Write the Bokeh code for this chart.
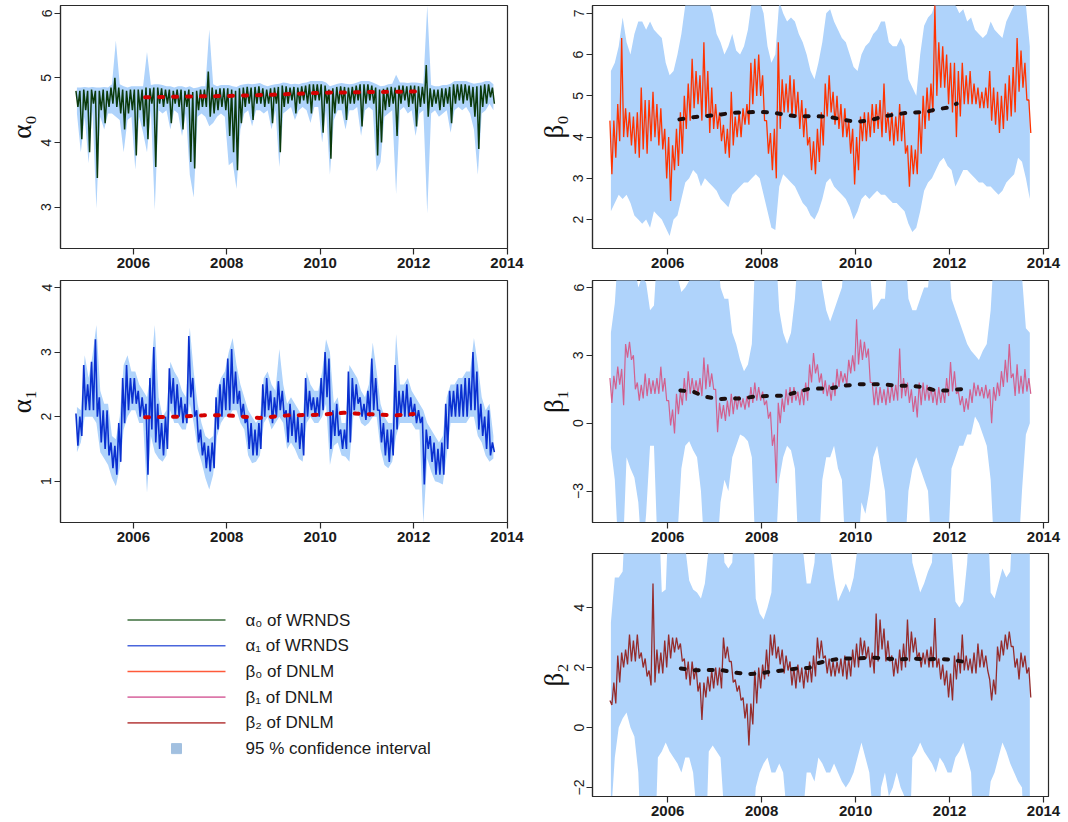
import numpy as np
from bokeh.plotting import figure
from bokeh.layouts import column, row
from bokeh.models import Range1d, FixedTicker
from bokeh.embed import file_html
from bokeh.resources import INLINE
from bokeh.core.properties import value

# ---------------- time grid: monthly, Oct 2004 .. Sep 2013 ----------------
first_month = 2004.75
n_months = 108
t = first_month + (np.arange(n_months) + 0.5) / 12.0

year_ticks = [2006, 2008, 2010, 2012, 2014]

# ---------------- alpha0 of WRNDS (monthly max / min of the daily path) ----------------
a0_hi = [4.80, 4.80, 4.82,
         4.80, 4.82, 4.80, 4.80, 4.82, 4.80, 4.85, 5.00, 4.85, 4.82, 4.80, 4.82,
         4.82, 4.82, 4.82, 4.85, 4.84, 4.85, 4.85, 4.84, 4.82, 4.82, 4.80, 4.82,
         4.82, 4.80, 4.82, 4.78, 4.80, 4.82, 4.82, 5.10, 4.85, 4.82, 4.84, 4.84,
         4.84, 4.82, 4.80, 4.84, 4.85, 4.86, 4.85, 4.86, 4.87, 4.84, 4.82, 4.84,
         4.85, 4.86, 4.88, 4.87, 4.85, 4.86, 4.85, 4.87, 4.88, 4.90, 4.90, 4.90,
         4.90, 4.88, 4.82, 4.84, 4.86, 4.87, 4.86, 4.85, 4.86, 4.88, 4.90, 4.90,
         4.90, 4.88, 4.85, 4.82, 4.83, 4.85, 4.86, 4.85, 4.88, 4.88, 4.87, 4.88,
         4.88, 4.87, 4.86, 5.20, 4.84, 4.82, 4.82, 4.84, 4.84, 4.86, 4.90, 4.90,
         4.90, 4.90, 4.88, 4.86, 4.87, 4.88, 4.90, 4.90, 4.85]
a0_lo = [4.55, 4.05, 4.50,
         3.85, 4.60, 3.45, 4.50, 4.30, 4.55, 4.60, 4.55, 4.45, 4.20, 4.45, 4.50,
         3.80, 4.50, 4.25, 4.05, 4.60, 3.62, 4.60, 4.55, 4.60, 4.30, 4.60, 4.55,
         4.20, 4.55, 3.70, 3.60, 4.50, 4.55, 4.55, 4.40, 4.45, 4.50, 4.55, 4.50,
         4.10, 3.85, 3.57, 4.30, 4.55, 4.60, 4.35, 4.60, 4.60, 4.55, 4.60, 4.30,
         4.60, 3.85, 4.55, 4.60, 4.65, 4.45, 4.60, 4.65, 4.60, 4.45, 4.65, 4.65,
         4.15, 4.60, 3.75, 4.45, 4.60, 4.60, 4.35, 4.60, 4.60, 4.65, 4.25, 4.60,
         4.65, 4.60, 3.80, 4.00, 4.50, 4.55, 4.60, 4.10, 4.60, 4.65, 4.55, 4.60,
         4.25, 4.55, 4.60, 4.40, 4.55, 4.60, 4.50, 4.55, 4.60, 4.30, 4.60, 4.65,
         4.60, 4.65, 4.55, 4.40, 3.90, 4.55, 4.60, 4.70, 4.60]
a0_ci_hi = [4.85, 4.85, 4.86,
            4.85, 4.86, 4.85, 4.85, 4.86, 4.85, 4.90, 5.58, 4.90, 4.87, 4.85, 4.87,
            4.87, 4.87, 4.87, 5.40, 4.89, 4.90, 4.90, 4.89, 4.87, 4.87, 4.85, 4.87,
            4.87, 4.85, 4.87, 4.84, 4.85, 4.87, 4.87, 5.75, 4.90, 4.87, 4.89, 4.89,
            4.89, 4.87, 4.86, 4.89, 4.90, 4.91, 4.90, 4.91, 4.92, 4.89, 4.87, 4.89,
            4.90, 4.91, 4.93, 4.92, 4.90, 4.91, 4.90, 4.92, 4.93, 4.95, 4.95, 4.95,
            4.95, 4.93, 4.87, 4.89, 4.91, 4.92, 4.91, 4.90, 4.91, 4.93, 4.95, 4.95,
            4.95, 4.93, 4.90, 4.87, 4.88, 4.90, 4.91, 5.05, 4.93, 4.93, 4.92, 4.93,
            4.93, 4.92, 4.91, 6.12, 4.89, 4.87, 4.87, 4.89, 4.89, 4.91, 4.95, 4.95,
            4.95, 4.95, 4.93, 4.91, 4.92, 4.93, 4.95, 4.95, 4.90]
a0_ci_lo = [4.45, 3.85, 4.40,
            3.68, 4.50, 2.98, 4.40, 4.20, 4.45, 4.45, 4.40, 4.35, 3.85, 4.35, 4.40,
            3.58, 4.40, 4.15, 3.85, 4.50, 2.95, 4.50, 4.45, 4.50, 4.20, 4.50, 4.45,
            4.10, 4.45, 3.50, 3.15, 4.40, 4.45, 4.40, 4.25, 4.30, 4.40, 4.45, 4.40,
            3.65, 3.70, 3.28, 4.20, 4.45, 4.50, 4.25, 4.50, 4.50, 4.45, 4.50, 4.20,
            4.50, 3.62, 4.45, 4.50, 4.55, 4.35, 4.50, 4.55, 4.50, 4.30, 4.55, 4.55,
            4.00, 4.50, 3.50, 4.35, 4.50, 4.50, 4.20, 4.50, 4.50, 4.55, 4.10, 4.50,
            4.55, 4.50, 3.55, 3.70, 4.40, 4.45, 4.50, 3.20, 4.50, 4.55, 4.45, 4.50,
            4.10, 4.45, 4.50, 2.90, 4.45, 4.50, 4.40, 4.45, 4.50, 4.15, 4.50, 4.55,
            4.50, 4.55, 4.45, 4.20, 3.50, 4.45, 4.50, 4.60, 4.50]
a0_trend_t = [2006.25, 2007.0, 2008.0, 2009.0, 2010.0, 2011.0, 2012.2]
a0_trend_v = [4.70, 4.71, 4.72, 4.74, 4.77, 4.78, 4.79]

# ---------------- alpha1 of WRNDS ----------------
a1_hi = [2.05, 2.00, 2.80,
         2.50, 2.85, 3.20, 2.30, 2.10, 2.10, 1.60, 1.55, 1.90, 2.60, 2.80, 2.60,
         2.60, 2.40, 2.30, 2.20, 2.60, 3.08, 2.20, 1.90, 2.00, 2.75, 2.60, 2.50,
         2.30, 2.20, 3.25, 2.60, 2.10, 1.80, 1.60, 1.55, 1.60, 2.30, 2.50, 2.60,
         2.90, 3.05, 2.70, 2.40, 2.20, 2.00, 1.90, 1.80, 1.90, 2.50, 2.60, 2.40,
         2.30, 2.55, 2.40, 2.10, 2.20, 2.10, 2.00, 1.90, 2.60, 2.40, 2.30, 2.30,
         2.60, 3.00, 2.90, 2.10, 2.20, 1.80, 1.80, 2.70, 2.60, 2.50, 2.30, 2.20,
         2.40, 2.90, 2.60, 2.10, 1.90, 1.80, 1.80, 2.80, 2.40, 2.40, 2.50, 2.30,
         2.20, 2.10, 2.00, 1.80, 1.70, 1.60, 1.50, 1.60, 2.20, 2.40, 2.40, 2.50,
         2.50, 2.60, 2.60, 3.00, 2.70, 2.20, 2.00, 2.10, 1.60]
a1_lo = [1.55, 1.70, 2.10,
         2.10, 2.10, 2.00, 1.60, 1.50, 1.40, 1.20, 1.10, 1.30, 1.90, 2.10, 2.20,
         2.20, 2.00, 2.00, 1.10, 1.80, 1.60, 1.50, 1.40, 1.50, 2.20, 2.00, 2.00,
         1.90, 1.90, 2.30, 2.00, 1.60, 1.40, 1.20, 1.15, 1.20, 1.80, 2.00, 2.10,
         2.10, 2.20, 2.20, 2.00, 1.90, 1.50, 1.40, 1.40, 1.50, 2.00, 2.10, 1.90,
         2.00, 2.10, 2.00, 1.60, 1.70, 1.60, 1.50, 1.40, 2.00, 2.10, 2.00, 2.00,
         2.10, 2.30, 1.50, 1.70, 1.70, 1.50, 1.50, 1.60, 2.10, 2.20, 2.00, 1.95,
         2.00, 2.10, 2.10, 1.60, 1.40, 1.30, 1.40, 1.80, 2.00, 2.00, 2.00, 2.00,
         1.90, 1.90, 0.95, 1.50, 1.30, 1.10, 1.10, 1.10, 1.50, 2.00, 2.00, 2.00,
         2.00, 2.00, 2.10, 2.10, 1.80, 1.70, 1.50, 1.40, 1.45]
a1_ci_hi = [2.15, 2.10, 2.95,
            2.60, 2.95, 3.42, 2.40, 2.20, 2.20, 1.70, 1.65, 2.00, 2.80, 2.95, 2.70,
            2.70, 2.50, 2.40, 2.30, 2.70, 3.42, 2.30, 2.00, 2.10, 2.85, 2.70, 2.60,
            2.40, 2.30, 3.38, 2.70, 2.20, 1.90, 1.70, 1.65, 1.70, 2.40, 2.60, 2.70,
            3.00, 3.22, 2.80, 2.50, 2.30, 2.10, 2.00, 1.90, 2.00, 2.60, 2.70, 2.50,
            2.40, 3.05, 2.50, 2.20, 2.30, 2.20, 2.10, 2.00, 2.70, 2.50, 2.40, 2.40,
            2.70, 3.20, 3.00, 2.20, 2.30, 1.90, 1.90, 2.80, 2.70, 2.60, 2.40, 2.30,
            2.50, 3.15, 2.70, 2.20, 2.00, 1.90, 1.90, 3.28, 2.50, 2.50, 2.60, 2.40,
            2.30, 2.20, 2.10, 1.90, 1.80, 1.70, 1.60, 1.70, 2.30, 2.50, 2.50, 2.60,
            2.60, 2.70, 2.70, 3.22, 2.80, 2.30, 2.10, 2.20, 1.70]
a1_ci_lo = [1.45, 1.60, 2.00,
            2.00, 2.00, 1.90, 1.45, 1.35, 1.25, 1.05, 0.92, 1.20, 1.80, 2.00, 2.10,
            2.10, 1.90, 1.90, 0.82, 1.70, 1.45, 1.35, 1.30, 1.40, 2.10, 1.90, 1.90,
            1.80, 1.80, 2.20, 1.90, 1.50, 1.30, 1.05, 0.87, 1.10, 1.70, 1.90, 2.00,
            2.00, 2.10, 2.10, 1.90, 1.80, 1.40, 1.28, 1.30, 1.40, 1.90, 2.00, 1.80,
            1.90, 2.00, 1.90, 1.50, 1.60, 1.50, 1.35, 1.30, 1.90, 2.00, 1.90, 1.90,
            2.00, 2.20, 1.25, 1.55, 1.60, 1.40, 1.38, 1.30, 2.00, 2.10, 1.90, 1.85,
            1.90, 2.00, 2.00, 1.50, 1.25, 1.20, 1.30, 1.70, 1.90, 1.90, 1.90, 1.90,
            1.80, 1.80, 0.35, 1.35, 1.15, 1.00, 0.98, 0.95, 1.40, 1.90, 1.90, 1.90,
            1.90, 1.90, 2.00, 2.00, 1.70, 1.60, 1.40, 1.30, 1.35]
a1_trend_t = [2006.25, 2007.0, 2007.5, 2008.0, 2008.7, 2009.3, 2010.0, 2010.5, 2011.0, 2011.6, 2012.0]
a1_trend_v = [1.99, 2.00, 2.02, 2.02, 1.98, 2.02, 2.03, 2.06, 2.04, 2.02, 2.04]

# ---------------- beta0 of DNLM ----------------
b0_hi = [4.4, 4.4, 4.8,
         6.4, 4.7, 4.6, 4.5, 4.6, 5.2, 4.9, 4.9, 5.1, 4.8, 4.7, 4.2,
         4.0, 3.8, 4.2, 4.6, 5.0, 5.3, 5.9, 5.6, 5.5, 6.3, 5.6, 5.2,
         4.8, 4.6, 4.3, 4.2, 5.1, 4.5, 4.6, 4.7, 4.8, 5.8, 5.9, 6.0,
         5.5, 4.4, 4.1, 4.2, 6.3, 5.4, 5.3, 5.5, 5.4, 5.1, 4.9, 4.7,
         4.0, 3.9, 4.2, 4.6, 5.3, 5.5, 5.1, 5.0, 4.8, 4.7, 4.4, 4.2,
         4.0, 4.5, 4.6, 4.6, 4.8, 4.8, 4.9, 5.3, 4.6, 4.6, 4.5, 4.8,
         4.6, 3.8, 3.8, 3.7, 4.6, 5.0, 5.2, 5.3, 7.2, 6.3, 6.2, 6.0,
         5.8, 5.8, 5.6, 5.8, 5.5, 5.6, 5.3, 5.2, 5.1, 5.2, 5.6, 5.2,
         5.1, 5.0, 5.3, 5.5, 5.7, 6.4, 6.1, 5.8, 4.9]
b0_lo = [3.1, 3.5, 3.9,
         4.0, 4.0, 3.8, 3.6, 3.5, 3.7, 3.6, 3.9, 4.0, 3.8, 3.7, 3.0,
         2.45, 3.2, 3.3, 3.6, 4.2, 4.4, 4.7, 4.8, 4.4, 4.5, 4.1, 4.2,
         4.2, 3.9, 3.6, 3.5, 3.8, 4.0, 4.0, 4.3, 4.3, 4.8, 5.0, 5.0,
         4.4, 3.6, 3.2, 3.0, 4.2, 4.6, 4.6, 4.5, 4.5, 4.2, 4.0, 3.8,
         3.2, 3.1, 3.4, 3.8, 4.5, 4.6, 4.3, 4.2, 4.0, 4.0, 3.6, 2.85,
         3.2, 3.9, 3.9, 4.0, 4.1, 4.2, 4.0, 4.1, 3.9, 3.8, 3.9, 3.9,
         3.6, 2.8, 3.1, 3.1, 3.6, 4.2, 4.4, 4.6, 5.0, 5.2, 5.2, 4.8,
         4.6, 4.0, 4.5, 4.8, 4.8, 4.8, 4.8, 4.7, 4.7, 4.7, 4.4, 4.3,
         4.1, 4.2, 4.4, 4.5, 4.6, 5.1, 5.2, 4.9, 4.1]
b0_ci_hi = [5.6, 5.8, 6.2,
            6.9, 6.3, 6.0, 6.5, 6.8, 6.8, 6.6, 6.8, 6.6, 6.5, 6.4, 5.8,
            5.5, 5.6, 6.0, 6.5, 7.2, 7.3, 7.3, 7.3, 7.3, 7.3, 7.3, 7.0,
            6.5, 6.3, 6.0, 6.2, 6.5, 6.1, 6.0, 6.2, 6.6, 7.3, 7.3, 7.3,
            7.0, 6.2, 5.8, 6.0, 7.3, 7.0, 6.8, 6.9, 6.8, 6.5, 6.3, 6.0,
            5.6, 5.4, 5.8, 6.3, 7.0, 7.1, 6.8, 6.6, 6.4, 6.3, 6.0, 5.7,
            5.6, 6.0, 6.2, 6.3, 6.5, 6.6, 6.8, 6.8, 6.3, 6.2, 6.2, 6.4,
            6.2, 5.4, 5.2, 5.0, 6.0, 6.7, 6.9, 7.0, 7.3, 7.3, 7.3, 7.3,
            7.3, 7.2, 7.0, 7.1, 6.8, 6.9, 6.6, 6.5, 6.4, 6.5, 6.8, 6.6,
            6.5, 6.4, 6.8, 7.0, 7.2, 7.3, 7.3, 7.2, 6.2]
b0_ci_lo = [2.2, 2.4, 2.6,
            2.5, 2.6, 2.4, 2.1, 2.0, 1.9, 2.0, 1.8, 2.2, 2.1, 2.0, 1.8,
            1.6, 2.0, 2.1, 2.5, 2.9, 3.0, 3.2, 3.1, 2.8, 3.0, 2.9, 2.8,
            2.7, 2.5, 2.4, 2.3, 2.6, 2.7, 2.8, 2.9, 2.9, 3.0, 3.1, 3.0,
            2.6, 2.2, 1.8, 1.75, 2.8, 3.1, 3.0, 2.9, 2.8, 2.6, 2.4, 2.3,
            2.1, 2.0, 2.2, 2.5, 2.9, 3.0, 2.8, 2.7, 2.6, 2.5, 2.3, 2.0,
            2.2, 2.5, 2.6, 2.5, 2.6, 2.7, 2.6, 2.6, 2.5, 2.4, 2.4, 2.3,
            2.2, 1.9, 1.7, 1.8, 2.2, 2.7, 2.9, 3.0, 3.2, 3.4, 3.5, 3.3,
            3.2, 2.8, 3.0, 3.2, 3.2, 3.1, 3.0, 2.9, 2.9, 2.8, 2.8, 2.7,
            2.6, 2.7, 2.9, 3.0, 3.1, 3.5, 3.4, 3.0, 2.5]
b0_trend_t = [2006.25, 2006.6, 2007.0, 2007.4, 2007.9, 2008.2, 2008.7, 2009.4, 2009.7,
              2010.0, 2010.3, 2010.55, 2010.8, 2011.1, 2011.5, 2011.7, 2012.0, 2012.15]
b0_trend_v = [4.43, 4.49, 4.53, 4.59, 4.61, 4.60, 4.51, 4.50, 4.43,
              4.37, 4.40, 4.49, 4.54, 4.59, 4.61, 4.67, 4.72, 4.81]

# ---------------- beta1 of DNLM ----------------
b1_hi = [2.0, 2.1, 2.5,
         2.4, 3.5, 3.6, 3.0, 1.8, 1.7, 2.2, 2.0, 1.9, 2.0, 2.5, 2.0,
         1.0, 0.6, 1.3, 1.4, 2.0, 2.3, 2.0, 1.9, 2.0, 2.9, 2.6, 2.2,
         1.5, 0.9, 0.8, 1.0, 1.3, 1.2, 1.2, 1.1, 1.2, 1.6, 1.8, 1.6,
         1.4, 1.0, 0.5, -0.5, 0.9, 1.1, 1.5, 1.6, 1.6, 1.4, 1.5, 1.8,
         2.6, 3.1, 2.6, 2.2, 1.9, 1.7, 1.8, 2.4, 2.3, 2.2, 2.8, 3.0,
         4.6, 3.7, 3.6, 3.3, 1.8, 1.6, 1.6, 1.5, 1.6, 1.7, 1.7, 3.3,
         2.0, 1.8, 1.5, 1.2, 1.8, 1.8, 1.7, 1.6, 1.5, 1.6, 1.5, 2.0,
         2.7, 2.3, 1.4, 1.2, 1.1, 1.5, 1.8, 1.7, 1.6, 1.7, 1.5, 1.6,
         1.8, 2.3, 2.8, 3.5, 2.2, 2.6, 2.1, 2.4, 2.0]
b1_lo = [0.9, 1.5, 1.7,
         0.8, 2.9, 2.8, 1.5, 1.0, 1.1, 1.2, 1.3, 1.3, 1.3, 1.4, 1.0,
         -0.1, -0.45, 0.4, 0.8, 1.0, 1.3, 1.3, 1.3, 1.2, 1.5, 1.6, 1.5,
         -0.4, 0.2, 0.1, 0.3, 0.4, 0.6, 0.7, 0.6, 0.7, 0.9, 1.0, 1.0,
         0.8, 0.2, -1.0, -2.65, 0.0, 0.5, 0.8, 0.9, 1.0, 0.8, 0.8, 1.0,
         1.8, 2.2, 1.8, 1.3, 1.2, 1.0, 1.2, 1.6, 1.8, 1.7, 2.2, 2.3,
         2.6, 2.8, 2.9, 1.8, 0.8, 0.8, 0.9, 0.8, 0.9, 1.0, 1.0, 1.1,
         1.2, 0.9, 0.5, 0.25, 0.8, 1.0, 1.0, 0.9, 0.8, 0.9, 0.9, 1.2,
         1.4, 1.3, 0.8, 0.5, 0.6, 0.9, 1.2, 1.2, 1.1, 1.1, 0.0, 1.0,
         1.2, 1.6, 1.8, 2.0, 1.2, 1.3, 1.3, 1.4, 1.3]
b1_ci_hi = [4.0, 5.3, 8.0,
            8.0, 8.0, 8.0, 7.0, 6.0, 6.5, 6.2, 5.0, 5.2, 8.0, 8.0, 8.0,
            8.0, 8.0, 6.5, 5.8, 6.0, 6.3, 6.5, 6.5, 8.0, 8.0, 8.0, 8.0,
            8.0, 6.0, 5.5, 5.5, 4.0, 3.5, 2.8, 2.3, 2.6, 3.5, 8.0, 8.0,
            8.0, 8.0, 8.0, 8.0, 5.0, 4.0, 3.5, 4.0, 5.5, 8.0, 8.0, 8.0,
            8.0, 8.0, 8.0, 6.0, 5.0, 4.5, 5.0, 5.5, 6.0, 8.0, 8.0, 8.0,
            8.0, 8.0, 8.0, 7.0, 5.0, 5.2, 5.5, 5.5, 8.0, 8.0, 8.0, 8.0,
            8.0, 5.5, 5.0, 5.0, 5.5, 6.0, 6.0, 8.0, 8.0, 8.0, 8.0, 8.0,
            5.5, 5.0, 4.5, 4.0, 3.5, 3.2, 3.0, 2.8, 3.2, 3.5, 5.0, 8.0,
            8.0, 8.0, 8.0, 8.0, 8.0, 8.0, 6.5, 4.2, 4.0]
b1_ci_lo = [-1.1, -2.5, -6.0,
            -6.0, -1.5, -2.0, -2.4, -3.5, -6.0, -4.0, -1.0, -1.0, -6.0, -6.0, -6.0,
            -6.0, -6.0, -5.0, -2.0, -1.0, -0.8, -1.2, -1.5, -3.0, -6.0, -6.0, -6.0,
            -6.0, -3.5, -2.5, -3.0, -1.5, -1.0, -0.5, -0.6, -0.8, -1.5, -6.0, -6.0,
            -6.0, -6.0, -6.0, -6.0, -2.5, -1.5, -1.0, -1.2, -2.0, -6.0, -6.0, -6.0,
            -6.0, -6.0, -6.0, -2.5, -1.5, -1.5, -1.0, -2.0, -2.5, -6.0, -6.0, -6.0,
            -6.0, -3.5, -4.0, -3.0, -1.5, -1.0, -2.0, -3.0, -6.0, -6.0, -6.0, -6.0,
            -6.0, -3.0, -2.0, -1.5, -2.0, -2.5, -3.0, -6.0, -6.0, -6.0, -6.0, -6.0,
            -2.0, -1.5, -1.0, -1.0, -0.5, -0.5, 0.3, 0.0, -0.5, -1.0, -2.5, -6.0,
            -6.0, -6.0, -6.0, -6.0, -6.0, -6.0, -3.0, -0.5, 0.0]
b1_trend_t = [2006.27, 2006.56, 2006.77, 2007.06, 2007.6, 2007.88, 2008.49, 2008.74, 2008.99, 2009.5,
              2009.77, 2010.06, 2010.56, 2010.88, 2011.16, 2011.45, 2011.7, 2011.99, 2012.27]
b1_trend_v = [1.45, 1.38, 1.19, 1.07, 1.10, 1.19, 1.22, 1.37, 1.51, 1.56,
              1.66, 1.72, 1.72, 1.66, 1.66, 1.59, 1.45, 1.45, 1.51]

# ---------------- beta2 of DNLM ----------------
b2_hi = [0.9, 1.5, 2.4,
         2.5, 2.6, 3.1, 2.9, 3.1, 2.5, 2.3, 1.9, 4.8, 2.6, 2.5, 2.9,
         3.1, 3.0, 3.0, 2.8, 2.3, 2.2, 2.2, 2.0, 1.5, 1.5, 1.7, 1.9,
         2.0, 2.0, 3.0, 2.7, 2.2, 1.6, 1.4, 1.0, 0.8, 0.8, 1.9, 2.0,
         2.1, 2.6, 3.1, 3.1, 2.7, 2.6, 2.4, 2.2, 2.0, 2.1, 2.0, 2.0,
         2.2, 2.4, 3.0, 2.9, 2.4, 2.3, 2.2, 2.2, 2.3, 2.4, 2.3, 2.6,
         2.8, 3.0, 2.9, 2.7, 2.5, 3.8, 3.6, 3.3, 2.9, 2.4, 2.3, 2.6,
         2.8, 3.6, 3.2, 3.0, 2.5, 2.5, 2.6, 2.7, 3.65, 2.3, 2.1, 1.9,
         1.8, 2.4, 2.5, 3.1, 2.4, 2.3, 2.5, 2.8, 2.6, 2.4, 1.6, 1.6,
         2.7, 2.9, 3.1, 3.2, 2.7, 2.3, 2.5, 2.4, 2.0]
b2_lo = [0.75, 0.8, 1.5,
         2.0, 2.1, 2.2, 2.2, 2.3, 2.0, 1.7, 1.4, 1.5, 1.8, 1.8, 2.0,
         2.3, 2.5, 2.6, 2.2, 1.6, 1.4, 1.6, 1.2, 0.25, 1.0, 1.2, 1.3,
         1.4, 1.3, 2.3, 2.2, 1.5, 1.2, 0.9, 0.3, -0.6, 0.1, 0.8, 1.3,
         1.6, 1.7, 2.4, 2.3, 2.1, 1.8, 1.9, 1.4, 1.3, 1.5, 1.3, 1.5,
         1.5, 1.7, 2.3, 2.3, 1.8, 1.7, 1.7, 1.8, 1.7, 1.6, 1.7, 2.0,
         2.0, 2.4, 2.3, 2.0, 1.8, 2.2, 2.6, 2.2, 2.2, 1.7, 1.8, 1.9,
         2.0, 2.2, 2.5, 2.3, 2.0, 2.1, 2.0, 2.0, 2.0, 1.6, 1.4, 1.0,
         0.9, 1.6, 1.8, 1.9, 1.9, 1.8, 1.8, 2.0, 2.0, 1.9, 0.9, 1.1,
         2.2, 2.4, 2.6, 2.7, 2.0, 1.6, 2.0, 1.8, 1.0]
b2_ci_hi = [3.5, 5.0, 5.0,
            5.2, 8.0, 8.0, 8.0, 8.0, 8.0, 8.0, 8.0, 8.0, 8.0, 4.5, 4.6,
            8.0, 8.0, 8.0, 8.0, 6.0, 4.9, 4.6, 4.5, 4.3, 4.8, 6.0, 8.0,
            8.0, 8.0, 5.5, 5.3, 5.5, 8.0, 8.0, 8.0, 8.0, 8.0, 4.3, 3.8,
            3.6, 4.0, 4.5, 8.0, 8.0, 8.0, 8.0, 8.0, 8.0, 8.0, 6.0, 4.8,
            4.8, 5.5, 8.0, 8.0, 8.0, 6.0, 5.0, 4.2, 4.5, 4.8, 4.5, 5.0,
            6.0, 8.0, 8.0, 8.0, 8.0, 8.0, 8.0, 8.0, 8.0, 8.0, 8.0, 8.0,
            8.0, 8.0, 5.5, 5.0, 4.5, 4.8, 5.2, 5.5, 8.0, 8.0, 8.0, 8.0,
            6.0, 4.2, 4.0, 4.2, 5.5, 8.0, 8.0, 8.0, 8.0, 8.0, 4.5, 4.3,
            4.8, 5.3, 5.0, 5.2, 8.0, 8.0, 8.0, 8.0, 8.0]
b2_ci_lo = [-3.0, -1.0, 0.0,
            0.3, 0.5, 0.0, -0.3, -1.5, -5.0, -5.0, -5.0, -5.0, -1.0, -0.8, -0.5,
            -0.8, -1.0, -1.2, -1.5, -1.0, -1.0, -1.5, -3.0, -5.0, -5.0, -0.8, -0.6,
            -0.8, -1.0, -3.0, -5.0, -5.0, -5.0, -5.0, -5.0, -5.0, -4.0, -2.0, -1.5,
            -1.2, -1.0, -1.5, -1.5, -1.2, -1.5, -3.0, -5.0, -5.0, -5.0, -3.0, -1.5,
            -1.5, -1.8, -1.0, -1.2, -1.5, -1.5, -1.2, -1.5, -1.8, -2.0, -1.8, -1.5,
            -1.0, -0.5, -1.0, -1.5, -3.0, -5.0, -2.0, -1.5, -2.3, -2.0, -1.5, -2.0,
            -2.3, -5.0, -1.0, -0.8, -0.5, -0.8, -1.0, -1.2, -1.5, -1.0, -1.2, -1.5,
            -1.5, -1.0, -0.8, -0.5, -1.0, -1.5, -5.0, -5.0, -5.0, -3.0, -1.8, -1.5,
            -1.0, -0.5, -0.8, -1.2, -1.5, -1.8, -2.0, -5.0, -5.0]
b2_trend_t = [2006.28, 2006.57, 2007.13, 2007.4, 2007.67, 2007.95, 2008.23, 2008.52, 2008.8, 2009.0, 2009.19,
              2009.44, 2009.72, 2010.04, 2010.33, 2010.61, 2010.89, 2011.21, 2011.5, 2011.78, 2011.99, 2012.28]
b2_trend_v = [1.97, 1.91, 1.92, 1.84, 1.78, 1.80, 1.87, 1.91, 1.98, 1.98, 2.14,
              2.24, 2.30, 2.30, 2.33, 2.31, 2.26, 2.30, 2.27, 2.29, 2.26, 2.20]

# ---------------- legend ----------------
legend_labels = ["α₀ of WRNDS", "α₁ of WRNDS", "β₀ of DNLM", "β₁ of DNLM", "β₂ of DNLM",
                 "95 % confidence interval"]
legend_colors = ["#3c6e3c", "#4a66dc", "#ff5a3a", "#dc78aa", "#bf5656"]

CI_COLOR = "#afd3fb"
AX_COLOR = "#2a2a2a"


def zigzag(tt, lo, hi):
    xs, ys = [], []
    for ti, l, h in zip(tt, lo, hi):
        xs += [ti - 1 / 48, ti + 1 / 48]
        ys += [h, l]
    return xs, ys


def panel(width, height, xr, yr, yticks, label, ci_lo, ci_hi, lo, hi, color, lw,
          tr_t, tr_v, tr_color, mb_left, mb_right, mb_top, mb_bottom):
    p = figure(width=width, height=height, x_range=Range1d(*xr), y_range=Range1d(*yr),
               output_backend="svg", toolbar_location=None,
               min_border_left=mb_left, min_border_right=mb_right,
               min_border_top=mb_top, min_border_bottom=mb_bottom)
    p.xgrid.visible = False
    p.ygrid.visible = False
    p.background_fill_color = "white"
    p.border_fill_color = "white"
    p.outline_line_color = AX_COLOR
    p.outline_line_width = 1.2

    p.varea(x=t, y1=ci_lo, y2=ci_hi, fill_color=CI_COLOR, fill_alpha=1.0)
    zx, zy = zigzag(t, lo, hi)
    p.line(zx, zy, line_color=color, line_width=lw)
    p.line(tr_t, tr_v, line_color=tr_color, line_width=4, line_dash="4 10", line_cap="round")

    for ax in (p.xaxis, p.yaxis):
        ax.axis_line_color = AX_COLOR
        ax.axis_line_width = 1.2
        ax.major_tick_line_color = AX_COLOR
        ax.major_tick_line_width = 1.2
        ax.major_tick_out = 6
        ax.major_tick_in = 0
        ax.minor_tick_line_color = None
        ax.major_label_text_color = "#1a1a1a"
        ax.major_label_text_font = "Liberation Sans"
    p.xaxis.ticker = FixedTicker(ticks=year_ticks)
    p.xaxis.major_label_text_font_size = "15px"
    p.xaxis.major_label_text_font_style = "bold"
    p.xaxis.major_label_standoff = 3
    p.yaxis.ticker = FixedTicker(ticks=yticks)
    p.yaxis.major_label_text_font_size = "14px"
    p.yaxis.major_label_orientation = "vertical"
    p.yaxis.major_label_standoff = 3
    p.yaxis.axis_label = label
    p.yaxis.axis_label_text_font = "Liberation Serif"
    p.yaxis.axis_label_text_font_size = "27px"
    p.yaxis.axis_label_text_font_style = "normal"
    p.yaxis.axis_label_text_color = "#111111"
    p.yaxis.axis_label_standoff = 2
    return p


W_LEFT = 532
W_RIGHT = 1068 - W_LEFT
H1, H2, H3 = 275, 273, 274

xl = (2004.44, 2014.01)
xr_ = (2004.40, 2014.106)

p1 = panel(W_LEFT, H1, xl, (2.36, 6.12), [3, 4, 5, 6], "α₀", a0_ci_lo, a0_ci_hi, a0_lo, a0_hi,
           "#0b3a0b", 1.5, a0_trend_t, a0_trend_v, "#d40000", 60, 25, 5, 27)
p2 = panel(W_RIGHT, H1, xr_, (1.30, 7.19), [2, 3, 4, 5, 6, 7], "β₀", b0_ci_lo, b0_ci_hi, b0_lo, b0_hi,
           "#ff3300", 1.3, b0_trend_t, b0_trend_v, "#1c0e0e", 60, 20, 5, 27)
p3 = panel(W_LEFT, H2, xl, (0.36, 4.11), [1, 2, 3, 4], "α₁", a1_ci_lo, a1_ci_hi, a1_lo, a1_hi,
           "#0a30d0", 1.6, a1_trend_t, a1_trend_v, "#d40000", 60, 25, 5, 26)
p4 = panel(W_RIGHT, H2, xr_, (-4.39, 6.31), [-3, 0, 3, 6], "β₁", b1_ci_lo, b1_ci_hi, b1_lo, b1_hi,
           "#d2608e", 1.2, b1_trend_t, b1_trend_v, "#1c0e0e", 60, 20, 5, 26)
p5 = panel(W_RIGHT, H3, xr_, (-2.30, 5.80), [-2, 0, 2, 4], "β₂", b2_ci_lo, b2_ci_hi, b2_lo, b2_hi,
           "#952c2c", 1.3, b2_trend_t, b2_trend_v, "#1c0e0e", 60, 20, 5, 26)

# legend panel
leg = figure(width=W_LEFT, height=H3, x_range=Range1d(0, W_LEFT), y_range=Range1d(H3, 0),
             output_backend="svg", toolbar_location=None, x_axis_type=None, y_axis_type=None,
             min_border=0)
leg.xgrid.visible = False
leg.ygrid.visible = False
leg.outline_line_color = None
row_y = [75 + 29 * k for k in range(len(legend_labels))]
leg.segment(x0=[127] * 5, x1=[225] * 5, y0=row_y[:5], y1=row_y[:5],
            line_color=legend_colors, line_width=1.6)
leg.scatter(x=[176], y=[row_y[5]], marker="square", size=10, fill_color="#a2c0e0",
            line_color="#a2c0e0")
leg.text(x=[245] * len(legend_labels), y=row_y, text=legend_labels, text_baseline="middle",
         text_align="left", text_font=value("Liberation Sans"), text_font_size="17px",
         text_color="#1a1a1a")

layout = column(row(p1, p2, spacing=0), row(p3, p4, spacing=0), row(leg, p5, spacing=0), spacing=0)

open("out.html", "w").write(file_html(layout, INLINE))
